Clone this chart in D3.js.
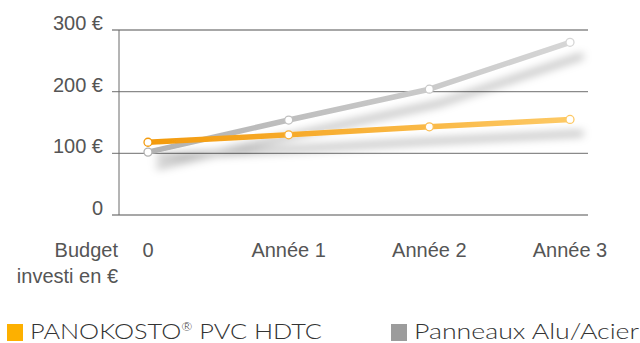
<!DOCTYPE html>
<html>
<head>
<meta charset="utf-8">
<script src="https://cdn.jsdelivr.net/npm/d3@7/dist/d3.min.js"></script>
<style>
  html, body { margin: 0; padding: 0; background: #fff; }
  svg { display: block; }
</style>
</head>
<body>
<svg id="chart" width="640" height="343"></svg>
<script>
// Budget cumulé sur trois ans
const categories = ["0", "Année 1", "Année 2", "Année 3"];
const panokosto = [118, 130, 143, 155];
const alu = [102, 154, 204, 280];
const yTicks = [0, 100, 200, 300];
const yTickLabels = ["0", "100 €", "200 €", "300 €"];
const axisTitle = ["Budget", "investi en €"];
const legendLabels = [["PANOKOSTO", "®", " PVC HDTC"], ["Panneaux Alu/Acier"]];

const svg = d3.select("#chart");
const defs = svg.append("defs");

const x = d3.scalePoint().domain(categories).range([148, 570]);
const y = d3.scaleLinear().domain([0, 300]).range([215, 30]);

// gradients along the lines
const gOrange = defs.append("linearGradient").attr("id", "gOrange")
  .attr("gradientUnits", "userSpaceOnUse").attr("x1", 148).attr("x2", 570).attr("y1", 0).attr("y2", 0);
gOrange.append("stop").attr("offset", "0%").attr("stop-color", "#f39a0c");
gOrange.append("stop").attr("offset", "100%").attr("stop-color", "#fdc965");
const gGray = defs.append("linearGradient").attr("id", "gGray")
  .attr("gradientUnits", "userSpaceOnUse").attr("x1", 148).attr("x2", 570).attr("y1", 0).attr("y2", 0);
gGray.append("stop").attr("offset", "0%").attr("stop-color", "#b2b2b2");
gGray.append("stop").attr("offset", "100%").attr("stop-color", "#d6d6d6");

const shadow = defs.append("filter").attr("id", "shadow")
  .attr("x", "-20%").attr("y", "-50%").attr("width", "150%").attr("height", "250%");
shadow.append("feDropShadow").attr("dx", 11).attr("dy", 14).attr("stdDeviation", 4)
  .attr("flood-color", "#000").attr("flood-opacity", 0.28);

// grid lines + ticks
svg.append("g").selectAll("line").data(yTicks).join("line")
  .attr("x1", 112).attr("x2", 588)
  .attr("y1", d => y(d)).attr("y2", d => y(d))
  .attr("stroke", "#8a8a8a").attr("stroke-width", 1.4);
svg.append("line").attr("x1", 119).attr("x2", 119).attr("y1", y(300)).attr("y2", y(0))
  .attr("stroke", "#6a6a6a").attr("stroke-width", 1);

const labelFont = "Liberation Sans, Arial, sans-serif";

// y labels
svg.append("g").selectAll("text").data(yTicks).join("text")
  .attr("x", 103).attr("y", d => y(d))
  .attr("text-anchor", "end")
  .attr("font-family", labelFont).attr("font-size", 20)
  .attr("fill", "#555")
  .text((d, i) => yTickLabels[i]);

// category labels
svg.append("g").selectAll("text").data(categories).join("text")
  .attr("x", d => x(d)).attr("y", 257)
  .attr("text-anchor", "middle")
  .attr("font-family", labelFont).attr("font-size", 20)
  .attr("fill", "#555")
  .text(d => d);

svg.append("g").selectAll("text").data(axisTitle).join("text")
  .attr("x", 118).attr("y", (d, i) => 257 + i * 26)
  .attr("text-anchor", "end")
  .attr("font-family", labelFont).attr("font-size", 20)
  .attr("fill", "#555")
  .text(d => d);

// series lines
const line = d3.line().x((d, i) => x(categories[i])).y(d => y(d));
const series = [
  { values: alu, stroke: "url(#gGray)", dot: ["#b2b2b2", "#c0c0c0", "#c8c8c8", "#d6d6d6"] },
  { values: panokosto, stroke: "url(#gOrange)", dot: ["#f39a0c", "#f7ae35", "#fbbd52", "#fdc965"] }
];
const lg = svg.append("g").attr("filter", "url(#shadow)");
series.forEach(s => {
  lg.append("path").datum(s.values).attr("d", line)
    .attr("fill", "none").attr("stroke", s.stroke).attr("stroke-width", 5.5)
    .attr("stroke-linejoin", "round").attr("stroke-linecap", "round");
});
series.forEach(s => {
  svg.append("g").selectAll("circle").data(s.values).join("circle")
    .attr("cx", (d, i) => x(categories[i])).attr("cy", d => y(d)).attr("r", 4)
    .attr("fill", "#fff").attr("stroke", (d, i) => s.dot[i]).attr("stroke-width", 1.3);
});

// legend
const legendColors = ["#fdb000", "#9c9c9c"];
const legendX = [7, 391];
const legendTextLen = [292, 225];
legendLabels.forEach((parts, i) => {
  svg.append("rect").attr("x", legendX[i]).attr("y", 324).attr("width", 16).attr("height", 17)
    .attr("fill", legendColors[i]);
  const t = svg.append("text").attr("x", legendX[i] + 23).attr("y", 339)
    .attr("font-family", "Lato, 'Noto Sans', sans-serif").attr("font-weight", 300).attr("font-size", 21)
    .attr("fill", "#333")
    .attr("textLength", legendTextLen[i]).attr("lengthAdjust", "spacingAndGlyphs");
  parts.forEach(p => {
    const ts = t.append("tspan").text(p);
    if (p === "®") ts.attr("font-size", 11).attr("dy", -8);
    else if (p.startsWith(" ")) ts.attr("dy", 8);
  });
});
</script>
</body>
</html>
